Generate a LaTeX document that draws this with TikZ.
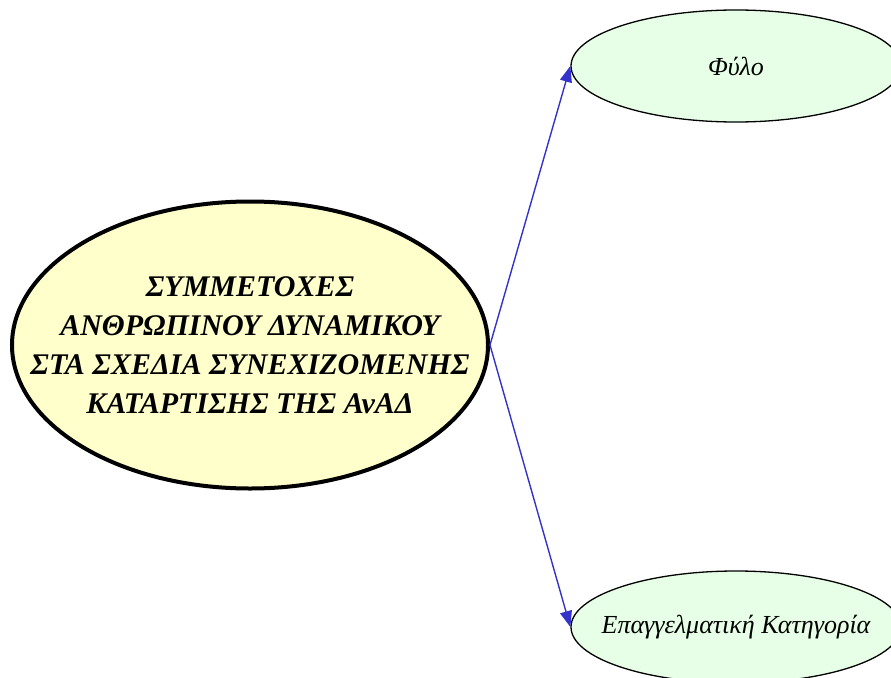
\documentclass[tikz,border=0pt]{standalone}
\usepackage{fontspec}
\setmainfont{Liberation Serif}
\usetikzlibrary{shapes.geometric, arrows.meta}

\definecolor{rootfill}{HTML}{FFFFCC}
\definecolor{leaffill}{HTML}{E6FFE6}
\definecolor{edgeblue}{HTML}{3333CC}

\tikzset{
  rootnode/.style={ellipse, draw=black, line width=4pt, fill=rootfill,
    minimum width=476pt, minimum height=287pt, inner sep=0pt},
  roottext/.style={align=center, inner sep=0pt,
    font=\fontsize{30}{39}\selectfont\bfseries\itshape},
  leafnode/.style={ellipse, draw=black, line width=1.3pt, fill=leaffill,
    minimum width=330pt, minimum height=112pt, inner sep=0pt},
  leaftext/.style={inner sep=0pt, font=\fontsize{26}{30}\selectfont\itshape},
  link/.style={draw=edgeblue, line width=1.4pt,
    -{Triangle[length=16pt, width=12pt]}}
}

\begin{document}
\begin{tikzpicture}[x=1pt, y=-1pt]

% Page frame: same size as the picture
\useasboundingbox (0, 0) rectangle (891, 677);

% Root: the survey subject
\node[rootnode] (root) at (250, 345) {};
\node[roottext] (rootlabel) at (root.center)
  {ΣΥΜΜΕΤΟΧΕΣ\\ ΑΝΘΡΩΠΙΝΟΥ ΔΥΝΑΜΙΚΟΥ\\ ΣΤΑ ΣΧΕΔΙΑ ΣΥΝΕΧΙΖΟΜΕΝΗΣ\\ ΚΑΤΑΡΤΙΣΗΣ ΤΗΣ ΑνΑΔ};

% Breakdowns, on the right edge
\node[leafnode] (fylo) at (736, 66) {};
\node[leaftext] (fylolabel) at (fylo.center) {Φύλο};
\node[leafnode] (katig) at (736, 627) {};
\node[leaftext] (katiglabel) at (katig.center) {Επαγγελματική Κατηγορία};

% Links from the root to each breakdown
\draw[link] (root.east) -- (fylo.west);
\draw[link] (root.east) -- (katig.west);

\end{tikzpicture}
\end{document}
